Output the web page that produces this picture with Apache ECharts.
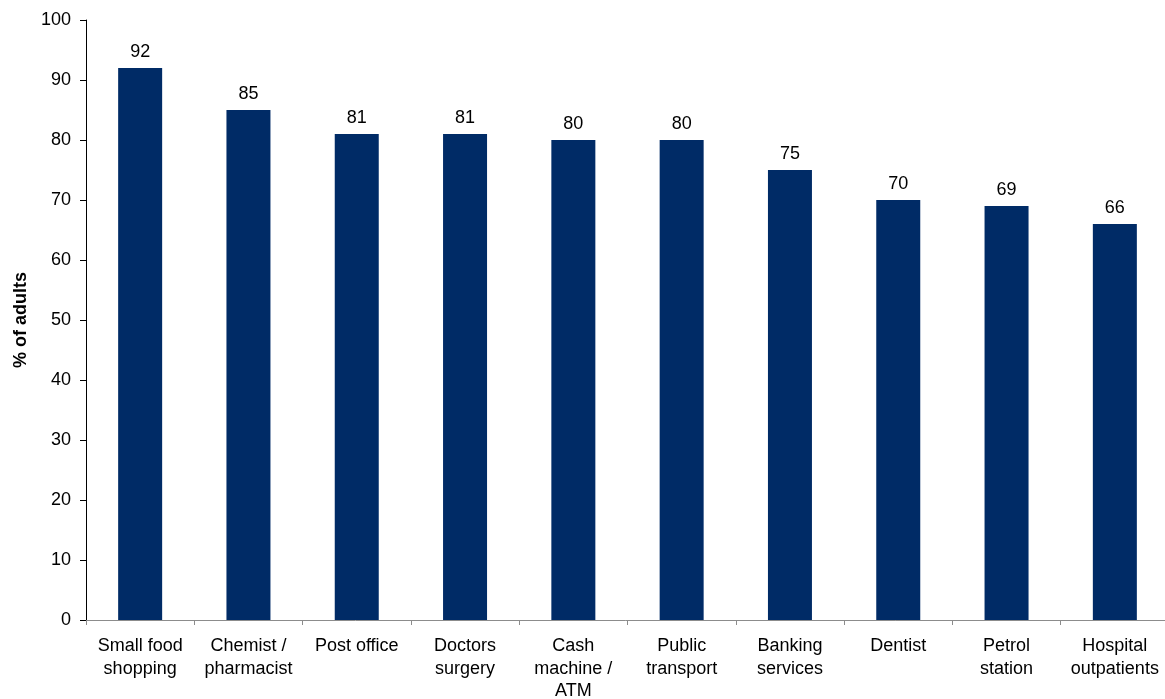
<!DOCTYPE html>
<html>
<head>
<meta charset="utf-8">
<script src="https://cdn.jsdelivr.net/npm/echarts@6/dist/echarts.min.js"></script>
<style>
  html, body { margin: 0; padding: 0; background: #fff; }
  #chart { width: 1165px; height: 699px; }
</style>
</head>
<body>
<div id="chart"></div>
<script>
// Services used by adults
const categories = [
  'Small food\nshopping', 'Chemist /\npharmacist', 'Post office', 'Doctors\nsurgery',
  'Cash\nmachine /\nATM', 'Public\ntransport', 'Banking\nservices', 'Dentist',
  'Petrol\nstation', 'Hospital\noutpatients'
];
const values = [92, 85, 81, 81, 80, 80, 75, 70, 69, 66];
const yAxisTitle = '% of adults';

const font = 'Liberation Sans, Arial, sans-serif';
const chart = echarts.init(document.getElementById('chart'), null, { renderer: 'canvas' });

chart.setOption({
  animation: false,
  grid: {
    left: 86, width: 1083, top: 20, height: 600,
    containLabel: false, outerBoundsMode: 'none'
  },
  xAxis: {
    type: 'category',
    data: categories,
    axisLine: { lineStyle: { color: '#8c8c8c', width: 1 } },
    axisTick: { show: true, length: 5, lineStyle: { color: '#8c8c8c' } },
    axisLabel: {
      interval: 0, color: '#000', fontFamily: font, fontSize: 18,
      lineHeight: 22.5, margin: 15
    }
  },
  yAxis: {
    type: 'value',
    min: 0, max: 100, interval: 10,
    name: yAxisTitle,
    nameLocation: 'middle',
    nameGap: 55,
    nameRotate: 90,
    nameTextStyle: { fontFamily: font, fontSize: 18, fontWeight: 'bold', color: '#000' },
    axisLine: { show: true, lineStyle: { color: '#000', width: 1 } },
    axisTick: { show: true, length: 6, inside: false, lineStyle: { color: '#000' } },
    axisLabel: { color: '#000', fontFamily: font, fontSize: 18, margin: 15 },
    splitLine: { show: false }
  },
  series: [{
    type: 'bar',
    data: values,
    barWidth: 44,
    itemStyle: { color: '#002B66' },
    label: {
      show: true, position: 'top', distance: 7,
      color: '#000', fontFamily: font, fontSize: 18
    }
  }]
});
</script>
</body>
</html>
